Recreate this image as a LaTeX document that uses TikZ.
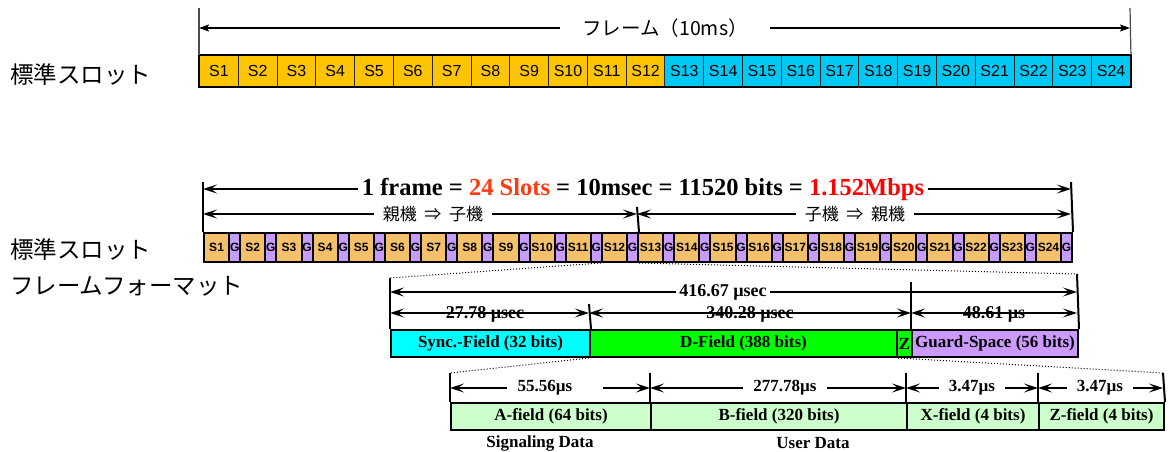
\documentclass[tikz,border=0pt]{standalone}
\usepackage{fontspec}
\setmainfont{Liberation Serif}
\setsansfont{Liberation Sans}
\newfontfamily\jp{Noto Sans CJK JP}
\usetikzlibrary{arrows.meta}
\definecolor{topO}{HTML}{FFC400}
\definecolor{topC}{HTML}{00C8F4}
\definecolor{slotS}{HTML}{F5C06A}
\definecolor{slotG}{HTML}{C89BFF}
\definecolor{redA}{HTML}{FF3A10}
\definecolor{redB}{HTML}{FF0000}
\definecolor{syncC}{HTML}{00FFFF}
\definecolor{dG}{HTML}{00FF00}
\definecolor{guardC}{HTML}{CC99FF}
\definecolor{lightG}{HTML}{CCFFCC}
\tikzset{
  jplab/.style={anchor=west, inner sep=0pt, font=\jp\fontsize{23.5}{28}\selectfont},
  topslot/.style={draw=black!85, line width=1pt, minimum width=38.79pt, minimum height=31pt, anchor=north west, inner sep=0pt, font=\sffamily\fontsize{16}{18}\selectfont},
  sslot/.style={draw, line width=2pt, minimum width=25.17pt, minimum height=29pt, anchor=north west, inner sep=0pt, fill=slotS, font=\sffamily\bfseries\fontsize{12}{14}\selectfont},
  gslot/.style={sslot, minimum width=11pt, fill=slotG},
  field/.style={draw, line width=2pt, minimum height=27pt, anchor=north west, inner sep=0pt, font=\bfseries\fontsize{17}{20}\selectfont},
  vthin/.style={draw=black!70, line width=1.2pt},
  vthick/.style={draw, line width=2pt},
  toparr/.style={line width=1.5pt, -{Stealth[length=10pt,width=7pt,inset=2pt]}},
  dimarr/.style={line width=2pt, -{Stealth[length=14pt,width=9pt,inset=6pt]}},
  dimboth/.style={line width=2pt, {Stealth[length=14pt,width=9pt,inset=6pt]}-{Stealth[length=14pt,width=9pt,inset=6pt]}},
  toplabel/.style={inner xsep=22pt, inner ysep=0pt, font=\jp\fontsize{19.5}{23}\selectfont},
  jpdir/.style={inner xsep=9pt, inner ysep=0pt, font=\jp\fontsize{17}{20}\selectfont},
  dimlab/.style={inner xsep=3pt, inner ysep=0pt, font=\bfseries\fontsize{18}{22}\selectfont},
  dimlabs/.style={inner xsep=10pt, inner ysep=0pt, font=\bfseries\fontsize{17}{20}\selectfont},
}
\begin{document}
\begin{tikzpicture}[x=1pt,y=-1pt]
\useasboundingbox[fill=white] (0,0) rectangle (1170,452);

% ---------- top: standard slot ----------
\node[jplab] (lab1) at (10,75) {標準スロット};
\foreach \i in {1,...,12} {
  \node[topslot, fill=topO] (t\i) at ({199+(\i-1)*38.79},55) {S\i};
}
\foreach \i in {13,...,24} {
  \node[topslot, fill=topC] (t\i) at ({199+(\i-1)*38.79},55) {S\i};
}
\draw[line width=2.5pt] (t1.north west) rectangle (t24.south east);
\coordinate (tvl) at (199,8);
\coordinate (tvr) at (1130,8);
\draw[vthin] (tvl) -- (t1.north west);
\draw[vthin] (tvr) -- (t24.north east);
\coordinate (tal) at (199,28);
\coordinate (tar) at (1130,28);
\node[toplabel] (tl) at (665,28) {フレーム（10ms）};
\draw[toparr] (tl.west) -- (tal);
\draw[toparr] (tl.east) -- (tar);

% ---------- frame format ----------
\node[jplab] (lab2) at (10,250) {標準スロット};
\node[jplab] (lab3) at (10,286) {フレームフォーマット};
\foreach \i in {1,...,24} {
  \node[sslot] (s\i) at ({203+(\i-1)*36.1667},232) {S\i};
  \node[gslot] (g\i) at ({203+(\i-1)*36.1667+25.17},232) {G};
}
\coordinate (fvl) at (203,182);
\coordinate (fvr) at (1071,182);
\coordinate (fvm) at (637,207);
\draw[vthick] (fvl) -- (s1.north west);
\draw[vthick] (fvr) -- (g24.north east);
\draw[vthick] (fvm) -- (g12.north east);
\coordinate (fal) at (203,189);
\coordinate (far) at (1071,189);
\node[dimlab, inner xsep=4pt, font=\bfseries\fontsize{24.5}{28}\selectfont] (fl) at (643,189)
  {1 frame = \textcolor{redA}{24 Slots} = 10msec = 11520 bits = \textcolor{redB}{1.152Mbps}};
\draw[dimarr] (fl.west) -- (fal);
\draw[dimarr] (fl.east) -- (far);
\coordinate (dl) at (203,214);
\coordinate (dm) at (637,214);
\coordinate (dr) at (1071,214);
\node[jpdir] (dir1) at (433,214) {親機\hspace{0.45em}⇒\hspace{0.45em}子機};
\node[jpdir] (dir2) at (855,214) {子機\hspace{0.45em}⇒\hspace{0.45em}親機};
\draw[dimarr] (dir1.west) -- (dl);
\draw[dimarr] (dir1.east) -- (dm);
\draw[dimarr] (dir2.west) -- (dm);
\draw[dimarr] (dir2.east) -- (dr);

% ---------- slot expansion ----------
\node[field, fill=syncC, minimum width=199pt] (sync) at (390,329) {Sync.-Field (32 bits)};
\node[field, fill=dG, minimum width=307pt] (dfield) at (589,329) {D-Field (388 bits)};
\node[field, fill=dG, minimum width=15pt] (zf) at (896,329) {Z};
\node[field, fill=guardC, minimum width=166pt] (guard) at (911,329) {Guard-Space (56 bits)};
\coordinate (xvl) at (390,278);
\coordinate (xvs) at (589,304);
\coordinate (xvg) at (911,282);
\coordinate (xvr) at (1077,274);
\draw[vthick] (xvl) -- (sync.north west);
\draw[vthick] (xvs) -- (sync.north east);
\draw[vthick] (xvg) -- (guard.north west);
\draw[vthick] (xvr) -- (guard.north east);
\draw[dotted, line width=1pt] (s12.south west) -- (xvl);
\draw[dotted, line width=1pt] (g12.south east) -- (xvr);
\coordinate (xa1) at (390,292);
\coordinate (xa2) at (1077,292);
\node[dimlab] (xl) at (723,292) {416.67 µsec};
\draw[dimarr] (xl.west) -- (xa1);
\draw[dimarr] (xl.east) -- (xa2);
\coordinate (xb1) at (390,313);
\coordinate (xb2) at (589,313);
\coordinate (xb3) at (911,313);
\coordinate (xb4) at (1077,313);
\node[dimlab] (l1) at (485,314) {27.78 µsec};
\node[dimlab] (l2) at (750,314) {340.28 µsec};
\node[dimlab] (l3) at (994,314) {48.61 µs};
\draw[dimboth] (xb1) -- (xb2);
\draw[dimboth] (xb2) -- (xb3);
\draw[dimboth] (xb3) -- (xb4);

% ---------- D-field expansion ----------
\node[field, fill=lightG, minimum width=200pt] (af) at (450,402) {A-field (64 bits)};
\node[field, fill=lightG, minimum width=256pt] (bf) at (650,402) {B-field (320 bits)};
\node[field, fill=lightG, minimum width=132pt] (xf) at (906,402) {X-field (4 bits)};
\node[field, fill=lightG, minimum width=125pt] (zzf) at (1038,402) {Z-field (4 bits)};
\coordinate (bv1) at (450,373);
\coordinate (bv2) at (650,373);
\coordinate (bv3) at (906,373);
\coordinate (bv4) at (1038,373);
\coordinate (bv5) at (1163,373);
\draw[vthick] (bv1) -- (af.north west);
\draw[vthick] (bv2) -- (bf.north west);
\draw[vthick] (bv3) -- (xf.north west);
\draw[vthick] (bv4) -- (zzf.north west);
\draw[vthick] (bv5) -- (zzf.north east);
\draw[dotted, line width=1pt] (dfield.south west) -- (bv1);
\draw[dotted, line width=1pt] (dfield.south east) -- (bv5);
\coordinate (ba1) at (450,388);
\coordinate (ba2) at (650,388);
\coordinate (ba3) at (906,388);
\coordinate (ba4) at (1038,388);
\coordinate (ba5) at (1163,388);
\coordinate (bgap) at (603,388);
\node[dimlabs] (m1) at (545,388) {55.56µs};
\node[dimlabs] (m2) at (785,388) {277.78µs};
\node[dimlabs] (m3) at (972,388) {3.47µs};
\node[dimlabs] (m4) at (1100,388) {3.47µs};
\draw[dimarr] (m1.west) -- (ba1);
\draw[dimarr] (bgap) -- (ba2);
\draw[dimarr] (m2.west) -- (ba2);
\draw[dimarr] (m2.east) -- (ba3);
\draw[dimarr] (m3.west) -- (ba3);
\draw[dimarr] (m3.east) -- (ba4);
\draw[dimarr] (m4.west) -- (ba4);
\draw[dimarr] (m4.east) -- (ba5);
\node[dimlabs, inner sep=0pt] (sig) at (540,443) {Signaling Data};
\node[dimlabs, inner sep=0pt] (usr) at (813,443) {User Data};
\end{tikzpicture}
\end{document}
